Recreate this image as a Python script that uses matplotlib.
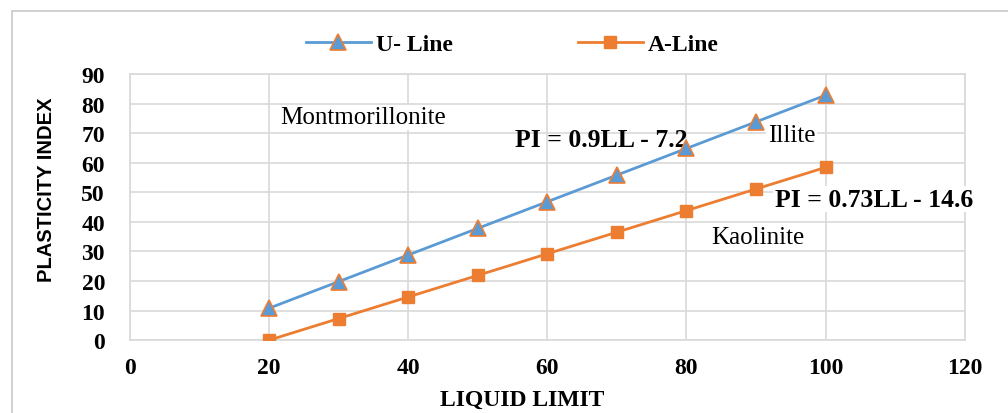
import matplotlib.pyplot as plt
from matplotlib.patches import Rectangle

# Liquid limit values and the two classification lines
liquid_limit = [20, 30, 40, 50, 60, 70, 80, 90, 100]
u_line = [10.8, 19.8, 28.8, 37.8, 46.8, 55.8, 64.8, 73.8, 82.8]
a_line = [0.0, 7.3, 14.6, 21.9, 29.2, 36.5, 43.8, 51.1, 58.4]

x_ticks = [0, 20, 40, 60, 80, 100, 120]
y_ticks = [0, 10, 20, 30, 40, 50, 60, 70, 80, 90]

serif = 'Liberation Serif'
blue = '#5B9BD5'
orange = '#ED7D31'

fig = plt.figure(figsize=(10.08, 4.14), dpi=100)
ax = fig.add_axes([0.129, 0.176, 0.828, 0.643])

# chart frame
fig.patches.append(Rectangle((0.012, -0.1), 1.2, 1.07, transform=fig.transFigure,
                             fill=False, edgecolor='#c8c8c8', linewidth=1.2))

ax.plot(liquid_limit, u_line, color=blue, linewidth=2, marker='^', markersize=11,
        markerfacecolor=blue, markeredgecolor=orange, markeredgewidth=1.2, label='U- Line')
ax.plot(liquid_limit, a_line, color=orange, linewidth=2, marker='s', markersize=9,
        markerfacecolor=orange, markeredgecolor=orange, label='A-Line')

ax.set_xlim(0, 120)
ax.set_ylim(0, 90)
ax.set_xticks(x_ticks)
ax.set_yticks(y_ticks)
ax.grid(True, color='#d9d9d9', linewidth=1.2)
ax.set_axisbelow(True)
for s in ax.spines.values():
    s.set_color('#d9d9d9')
    s.set_linewidth(1.2)
    s.set_zorder(0.6)
ax.tick_params(axis='x', length=0, pad=12)
ax.tick_params(axis='y', length=0, pad=18)
for lbl in ax.get_xticklabels() + ax.get_yticklabels():
    lbl.set_fontfamily(serif)
    lbl.set_fontweight('bold')
    lbl.set_fontsize(17)

ax.set_xlabel('LIQUID LIMIT', fontfamily=serif, fontweight='bold', fontsize=17, va='center')
ax.xaxis.set_label_coords(0.47, -0.222)
ax.set_ylabel('PLASTICITY INDEX', fontfamily='Liberation Sans', fontweight='bold',
              fontsize=14.5, va='center')
ax.yaxis.set_label_coords(-0.1, 0.57)

box = dict(facecolor='white', edgecolor='none', pad=1)
ax.text(21.6, 75.4, 'Montmorillonite', fontfamily=serif, fontsize=18, va='center', bbox=box)
ax.text(55.3, 67.7, 'PI = 0.9LL - 7.2', fontfamily=serif, fontweight='bold', fontsize=18.5,
        va='center', zorder=1)
ax.text(91.7, 69.4, 'Illite', fontfamily=serif, fontsize=18, va='center', bbox=box, zorder=1)
ax.text(92.7, 47.7, 'PI = 0.73LL - 14.6', fontfamily=serif, fontweight='bold', fontsize=18.5,
        va='center', bbox=box, zorder=1, clip_on=False)
ax.text(83.6, 34.8, 'Kaolinite', fontfamily=serif, fontsize=18, va='center', bbox=box, zorder=1)

fig.legend(loc='center', bbox_to_anchor=(0.508, 0.89), ncol=2, frameon=False,
           prop={'family': serif, 'weight': 'bold', 'size': 17}, columnspacing=5.3,
           handlelength=2.75, handletextpad=0.2)

fig.savefig('out.png', dpi=100)
